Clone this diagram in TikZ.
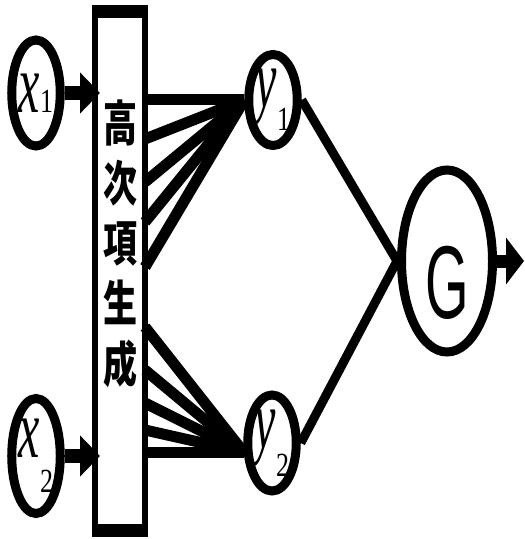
\documentclass[tikz,border=0pt]{standalone}
\usepackage{graphicx}
\usepackage{fontspec}
\setmainfont{Liberation Serif}
\newfontfamily\cjkfont{Noto Sans CJK JP}
\newfontfamily\gfont{Liberation Sans}
\usetikzlibrary{shapes.geometric, arrows.meta, calc}
\definecolor{colLine}{RGB}{0,0,0}
\newcommand{\varlab}[3]{%
  {\fontsize{24}{24}\selectfont\scalebox{1}[1.75]{\itshape #1}}%
  \raisebox{#3}{\fontsize{13}{13}\selectfont\scalebox{1}[1.3]{#2}}}
\tikzset{
  varNode/.style={
    ellipse, draw=colLine, line width=4.5pt,
    inner sep=0pt, minimum width=24pt
  },
  genBox/.style={
    rectangle, draw=colLine, line width=3pt, outer sep=0pt,
    minimum width=25pt, minimum height=263pt
  },
  genText/.style={
    font=\cjkfont\bfseries\fontsize{17}{21}\selectfont, inner sep=0pt
  },
  outNode/.style={
    ellipse, draw=colLine, line width=4.5pt, inner sep=0pt,
    minimum width=45.5pt, minimum height=91pt,
    font=\gfont\fontsize{28}{28}\selectfont, text height=57pt, text depth=0pt
  },
  fanLine/.style={line width=5.5pt, color=colLine},
  linkLine/.style={line width=4.5pt, color=colLine},
  inArr/.style={
    -{Triangle[length=10pt, width=20pt]}, line width=7pt, color=colLine
  },
  outArr/.style={
    -{Triangle[length=9pt, width=23pt]}, line width=6.5pt, color=colLine
  }
}

\begin{document}
\begin{tikzpicture}[x=0.5pt, y=-0.5pt]

  \useasboundingbox (0,0) rectangle (524,539);

  % inputs and term generator
  \node[varNode, minimum height=53pt] (x1) at (36,93) {\varlab{x}{1}{0pt}};
  \node[varNode, minimum height=57.5pt] (x2) at (36,456) {\varlab{x}{2}{-17.5pt}};
  \node[genBox] (box) at (120,271) {};
  \fill[colLine] ($(box.north west)+(-3,-3)$) rectangle ($(box.north east)+(3,10)$);
  \fill[colLine] ($(box.south west)+(-3,-10)$) rectangle ($(box.south east)+(3,3)$);
  \node[genText] (gen) at (120,250)
    {\scalebox{1}[1.43]{\begin{tabular}{@{}c@{}}高\\次\\項\\生\\成\end{tabular}}};

  % hidden units and output
  \node[varNode, minimum width=23pt, minimum height=45.5pt] (y1) at (273,100) {\varlab{y}{1}{-11.5pt}};
  \node[varNode, minimum width=23pt, minimum height=48pt] (y2) at (272,443) {\varlab{y}{2}{-14pt}};
  \node[outNode] (G) at (447,261) {\scalebox{1}[1.85]{G}};
  \coordinate (out) at (524,261);

  % input arrows
  \draw[inArr, shorten >=-2.5pt] (x1.east) -- (box.west |- x1.east);
  \draw[inArr, shorten >=-2.5pt] (x2.east) -- (box.west |- x2.east);

  % higher order terms into y1 and y2
  \draw[fanLine] (box.east |- y1.west) -- (y1.west);
  \foreach \h in {139,182,222,267}
    \draw[fanLine] (box.east |- 0,\h) -- (y1.west);
  \foreach \h in {327,370,403,430}
    \draw[fanLine] (box.east |- 0,\h) -- (y2.198);
  \draw[fanLine] (box.east |- y2.198) -- (y2.198);

  % to G
  \draw[linkLine] (y1.east) -- (G.west);
  \draw[linkLine] (y2.east) -- (G.west);
  \draw[outArr] (G.east) -- (out);

\end{tikzpicture}
\end{document}
